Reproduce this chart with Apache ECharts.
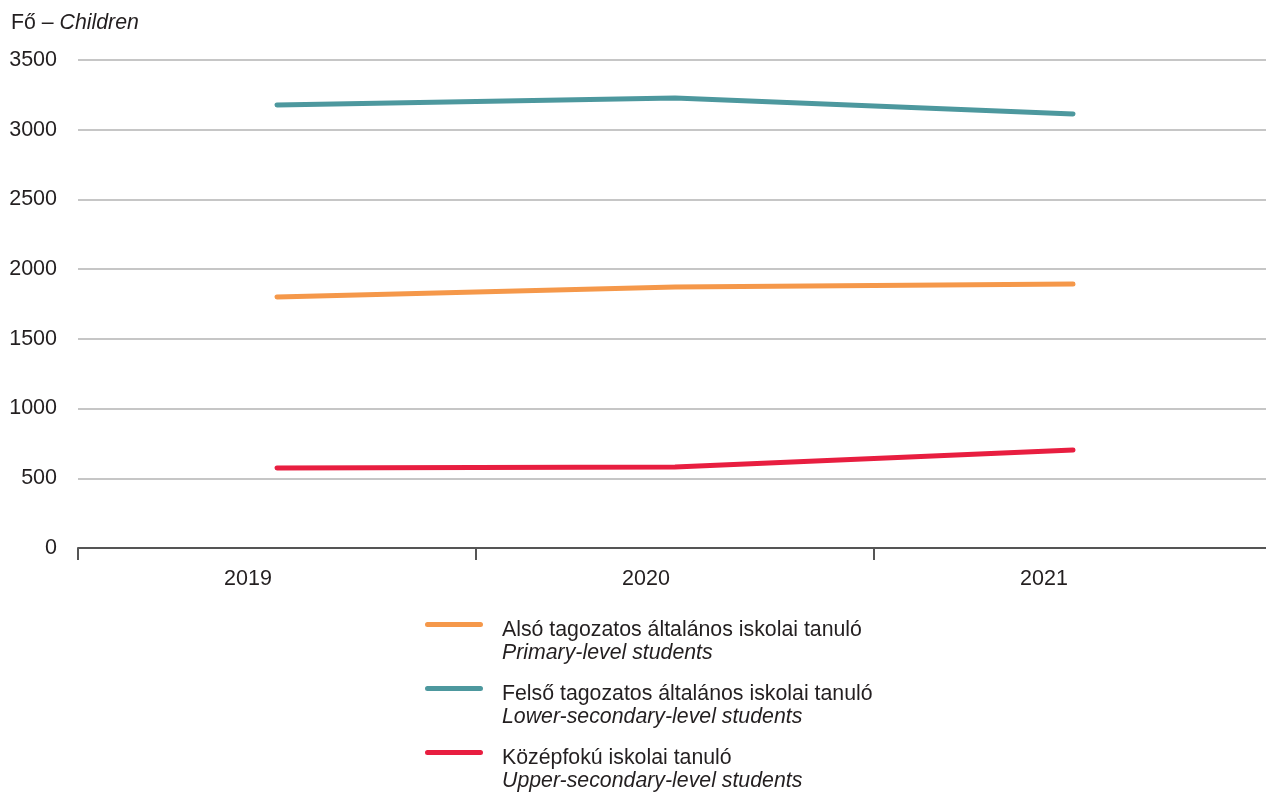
<!DOCTYPE html>
<html>
<head>
<meta charset="utf-8">
<script src="https://cdn.jsdelivr.net/npm/echarts@6/dist/echarts.min.js"></script>
<style>html,body{margin:0;padding:0;background:#fff}#c{width:1266px;height:794px}</style>
</head>
<body>
<div id="c"></div>
<script>
const years = ['2019', '2020', '2021'];
const primary = [1800, 1872, 1893];
const lowerSecondary = [3177, 3227, 3113];
const upperSecondary = [574, 581, 703];
const namesHu = ['Alsó tagozatos általános iskolai tanuló', 'Felső tagozatos általános iskolai tanuló', 'Középfokú iskolai tanuló'];
const namesEn = ['Primary-level students', 'Lower-secondary-level students', 'Upper-secondary-level students'];
const colors = ['#F5984A', '#4D989E', '#E81E40'];
const seriesValues = [primary, lowerSecondary, upperSecondary];

const FONT = 'Liberation Sans, Arial, sans-serif';
const TXT = '#231F20';
// rounded line drawn at the top of a taller (invisible) icon box
const ICON = 'path://M2.5,0L55.5,0A2.5,2.5,0,0,1,55.5,5L2.5,5A2.5,2.5,0,0,1,2.5,0Z M0,39.95L0.05,40L0,40Z';

const chart = echarts.init(document.getElementById('c'));
const legends = namesHu.map((n, i) => ({
  data: [n],
  orient: 'vertical',
  left: 425,
  top: 620 + i * 64,
  padding: 0,
  icon: ICON,
  itemWidth: 58,
  itemHeight: 40,
  selectedMode: false,
  formatter: (name) => '{a|' + name + '}\n{b|' + namesEn[namesHu.indexOf(name)] + '}',
  textStyle: {
    fontFamily: FONT,
    color: TXT,
    rich: {
      a: { fontFamily: FONT, fontSize: 21.3, color: TXT, lineHeight: 23, padding: [0, 0, 0, 14] },
      b: { fontFamily: FONT, fontSize: 21.3, color: TXT, lineHeight: 23, fontStyle: 'italic', padding: [0, 0, 0, 14] }
    }
  }
}));

chart.setOption({
  animation: false,
  backgroundColor: '#fff',
  title: {
    text: '{a|Fő – }{b|Children}',
    left: 11,
    top: 13,
    padding: 0,
    textStyle: {
      fontWeight: 'normal',
      rich: {
        a: { fontFamily: FONT, fontSize: 21.3, fontWeight: 'normal', color: TXT },
        b: { fontFamily: FONT, fontSize: 21.3, fontWeight: 'normal', color: TXT, fontStyle: 'italic' }
      }
    }
  },
  legend: legends,
  grid: { left: 78, width: 1194, top: 60, bottom: 246, containLabel: false, outerBoundsMode: 'none' },
  xAxis: {
    type: 'category',
    data: years,
    boundaryGap: true,
    axisLine: { lineStyle: { color: '#555', width: 2 } },
    axisTick: { show: true, length: 12, lineStyle: { color: '#555', width: 2 } },
    axisLabel: { fontFamily: FONT, fontSize: 21.5, color: TXT, margin: 20, padding: [0, 58, 0, 0] },
    splitLine: { show: false }
  },
  yAxis: {
    type: 'value',
    min: 0,
    max: 3500,
    interval: 500,
    axisLine: { show: false },
    axisTick: { show: false },
    axisLabel: { fontFamily: FONT, fontSize: 21.5, color: TXT, margin: 21, formatter: (v) => String(v) },
    splitLine: { lineStyle: { color: '#B3B3B3', width: 1.5 } }
  },
  series: seriesValues.map((vals, i) => ({
    name: namesHu[i],
    type: 'line',
    data: vals,
    showSymbol: false,
    symbol: 'none',
    color: colors[i],
    itemStyle: { color: colors[i] },
    lineStyle: { color: colors[i], width: 5, cap: 'round', join: 'round' },
    z: 3 + i
  }))
});
</script>
</body>
</html>
